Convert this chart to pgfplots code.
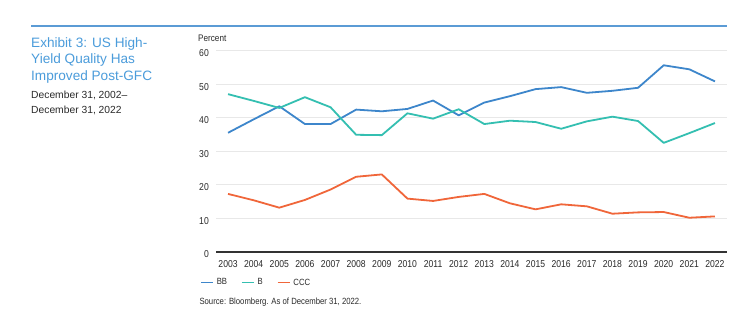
\documentclass[border=0pt]{standalone}
\usepackage{pgfplots}
\pgfplotsset{compat=1.18}
\usepackage{fontspec}
\setmainfont{Liberation Sans}
\newfontfamily\condfont[FakeStretch=0.86]{Liberation Sans}
\definecolor{bbcol}{HTML}{3D86CB}
\definecolor{bcol}{HTML}{34BFB1}
\definecolor{ccccol}{HTML}{F0663A}
\definecolor{titlecol}{HTML}{4B9CDB}
\definecolor{rulecol}{HTML}{5B9BD5}
\definecolor{gridcol}{HTML}{E8E8E8}
\definecolor{txtcol}{HTML}{2A2A2A}
\begin{document}
\begin{tikzpicture}
\useasboundingbox[fill=white] (0,0) rectangle (736bp,325bp);
\begin{scope}[x=1bp,y=-1bp,shift={(0bp,325bp)}]
\draw[rulecol, line width=1.3bp] (31,26) -- (727,26);
\node[anchor=base west, inner sep=0pt, text=titlecol, font=\fontsize{13.6bp}{16bp}\selectfont] at (31,47.3) {Exhibit 3: US High-};
\node[anchor=base west, inner sep=0pt, text=titlecol, font=\fontsize{13.6bp}{16bp}\selectfont] at (31,63.9) {Yield Quality Has};
\node[anchor=base west, inner sep=0pt, text=titlecol, font=\fontsize{13.6bp}{16bp}\selectfont] at (31,80.5) {Improved Post-GFC};
\node[anchor=base west, inner sep=0pt, text=txtcol, font=\fontsize{10.3bp}{12bp}\selectfont] at (31,99) {December 31, 2002--};
\node[anchor=base west, inner sep=0pt, text=txtcol, font=\fontsize{10.3bp}{12bp}\selectfont] at (31,113.3) {December 31, 2022};
\node[anchor=base west, inner sep=0pt, text=txtcol, font=\condfont\fontsize{9.5bp}{11bp}\selectfont] at (198,42) {Percent};
\node[anchor=base west, inner sep=0pt, text=txtcol, font=\condfont\fontsize{9bp}{11bp}\selectfont] at (199.3,304.7) {Source: Bloomberg. As of December 31, 2022.};
\end{scope}
\begin{axis}[
  at={(216bp,73bp)}, anchor=south west,
  scale only axis, width=511bp, height=201.5bp,
  xmin=2002.53, xmax=2022.47, ymin=0, ymax=60,
  axis line style={draw=none},
  xtick={2003,...,2022}, ytick={0,10,...,60},
  ymajorgrids, major grid style={gridcol, line width=0.9bp},
  major tick length=0pt, tick style={draw=none},
  /pgf/number format/assume math mode=true,
  /pgf/number format/1000 sep={},
  tick label style={text=txtcol, font=\condfont\fontsize{10bp}{12bp}\selectfont, inner sep=0pt},
  xticklabel style={anchor=north, yshift=-8bp},
  yticklabel style={anchor=east, xshift=-7bp, yshift=-2.5bp},
  clip=false,
  legend columns=3,
  legend style={at={(rel axis cs:-0.0313,-0.152)}, anchor=west, draw=none, fill=none, inner sep=0pt,
    font=\condfont\fontsize{9bp}{11bp}\selectfont, text=txtcol,
    nodes={inner sep=0pt},
    /tikz/every odd column/.append style={column sep=3bp},
    /tikz/every even column/.append style={column sep=14bp}},
  legend image code/.code={\draw[#1, line width=1.6bp] (0bp,0bp) -- (12bp,0bp);},
  every axis plot/.append style={line width=1.8bp, line join=round},
]
\addplot[bbcol] coordinates {(2003,35.5)(2004,39.5)(2005,43.4)(2006,38.1)(2007,38.1)(2008,42.4)(2009,41.9)(2010,42.6)(2011,45.1)(2012,40.7)(2013,44.5)(2014,46.4)(2015,48.5)(2016,49.1)(2017,47.4)(2018,48.0)(2019,48.9)(2020,55.6)(2021,54.4)(2022,50.8)};
\addlegendentry{BB}
\addplot[bcol] coordinates {(2003,47.0)(2004,45.0)(2005,42.9)(2006,46.1)(2007,43.1)(2008,34.9)(2009,34.8)(2010,41.3)(2011,39.7)(2012,42.5)(2013,38.1)(2014,39.1)(2015,38.7)(2016,36.7)(2017,38.9)(2018,40.3)(2019,39.0)(2020,32.5)(2021,35.4)(2022,38.4)};
\addlegendentry{B}
\addplot[ccccol] coordinates {(2003,17.3)(2004,15.4)(2005,13.2)(2006,15.5)(2007,18.6)(2008,22.4)(2009,23.1)(2010,15.9)(2011,15.2)(2012,16.4)(2013,17.3)(2014,14.5)(2015,12.7)(2016,14.2)(2017,13.6)(2018,11.4)(2019,11.8)(2020,11.9)(2021,10.2)(2022,10.6)};
\addlegendentry{CCC}
\draw[black!80, line width=1.3bp] (axis cs:2002.53,0) -- (axis cs:2022.47,0);
\end{axis}
\end{tikzpicture}
\end{document}
